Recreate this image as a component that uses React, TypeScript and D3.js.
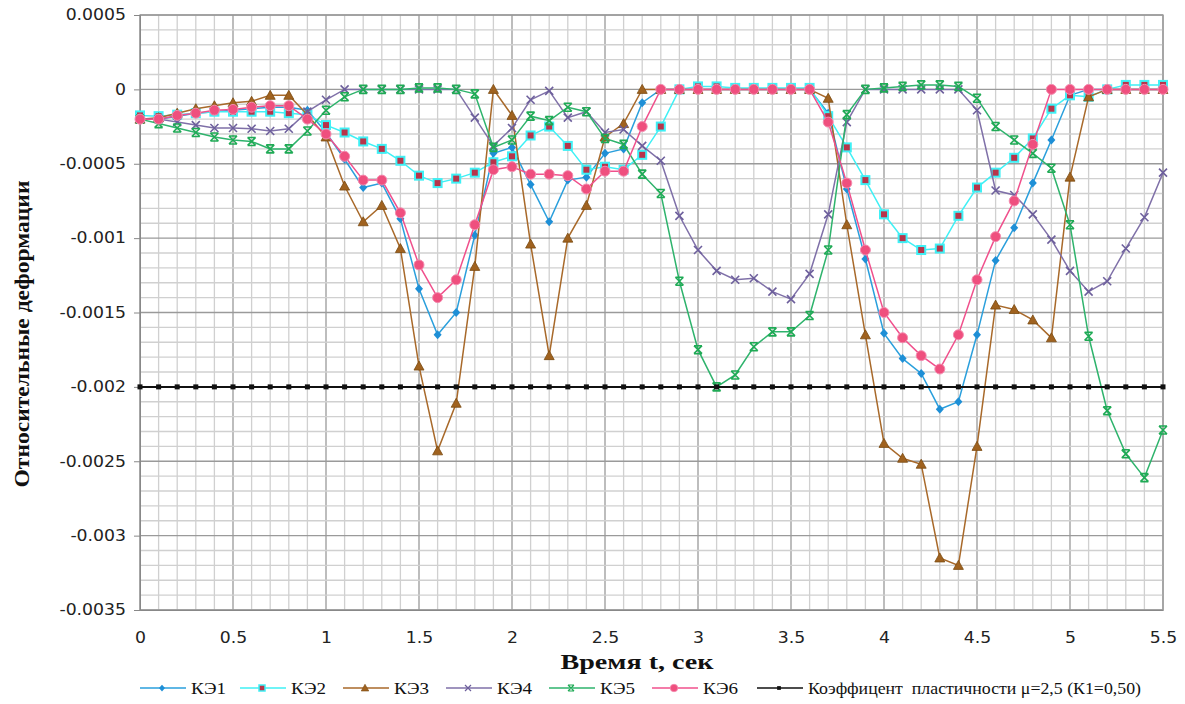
import React, { useEffect, useRef } from "react";
import * as d3 from "d3";

// time, seconds (0 .. 5.5 step 0.1)
const times = d3.range(56).map((i) => +(i * 0.1).toFixed(1));

const ke1 = [
  -0.0002, -0.0002, -0.00018, -0.00016, -0.00015, -0.00014, -0.00013, -0.00012, -0.00012, -0.00014,
  -0.00029, -0.00047, -0.00066, -0.00063, -0.00087, -0.00134, -0.00165, -0.0015, -0.00098, -0.00043,
  -0.00039, -0.00064, -0.00089, -0.00061, -0.00059, -0.00043, -0.0004, -0.00009, 0, 0,
  0, 0, 0, 0, 0, 0, 0, -0.00016, -0.00067, -0.00114,
  -0.00164, -0.00181, -0.00191, -0.00215, -0.0021, -0.00165, -0.00115, -0.00093, -0.00063, -0.00034,
  -0.00004, 0, 0, 0, 0, 0,
];
const ke2 = [
  -0.000175, -0.00018, -0.00017, -0.00016, -0.00015, -0.00015, -0.00015, -0.00015, -0.00016, -0.00017,
  -0.00024, -0.00029, -0.00035, -0.0004, -0.00048, -0.00058, -0.00063, -0.0006, -0.00056, -0.00049,
  -0.00045, -0.00031, -0.00025, -0.00038, -0.00054, -0.00052, -0.00054, -0.00044, -0.00025, 0,
  0.00002, 0.00002, 0.00001, 0.00001, 0.00001, 0.00001, 0.00001, -0.00018, -0.00039, -0.00061,
  -0.00084, -0.001, -0.00108, -0.00107, -0.00085, -0.00066, -0.00056, -0.00046, -0.00033, -0.00013,
  -0.00004, -0.00005, 0, 0.00003, 0.00003, 0.00003,
];
const ke3 = [
  -0.0002, -0.00019, -0.00016, -0.00013, -0.00011, -0.00009, -0.00008, -0.00004, -0.00004, -0.00017,
  -0.00032, -0.00065, -0.00089, -0.00078, -0.00107, -0.00186, -0.00243, -0.00211, -0.00119, 0,
  -0.000175, -0.00104, -0.00179, -0.001, -0.00078, -0.00032, -0.00023, 0, 0, 0,
  0, 0, 0, 0, 0, 0, 0, -0.00006, -0.00091, -0.00165,
  -0.00238, -0.00248, -0.00252, -0.00315, -0.0032, -0.0024, -0.00145, -0.00148, -0.00155, -0.00167,
  -0.00059, -0.00005, 0, 0, 0, 0,
];
const ke4 = [
  -0.0002, -0.0002, -0.00022, -0.00024, -0.00026, -0.00026, -0.000265, -0.00028, -0.000265, -0.00015,
  -0.00007, 0, 0, 0, 0, 0, 0, 0, -0.00019, -0.00038,
  -0.00026, -0.00007, -0.00001, -0.00019, -0.00015, -0.00029, -0.00027, -0.00038, -0.00048, -0.00085,
  -0.00108, -0.00122, -0.00128, -0.00127, -0.00136, -0.00141, -0.00124, -0.00084, -0.00022, 0,
  0, 0, 0, 0, 0, -0.00014, -0.00068, -0.00071, -0.00084, -0.00101,
  -0.00122, -0.00136, -0.00129, -0.00107, -0.00086, -0.00056,
];
const ke5 = [
  -0.0002, -0.00023, -0.00026, -0.00029, -0.00032, -0.00034, -0.00035, -0.0004, -0.0004, -0.00028,
  -0.00014, -0.00005, 0, 0, 0, 0.00001, 0.00001, 0, -0.00003, -0.00039,
  -0.00034, -0.00018, -0.00021, -0.00012, -0.00015, -0.00033, -0.00037, -0.00057, -0.0007, -0.00129,
  -0.00175, -0.002, -0.00192, -0.00173, -0.00163, -0.00163, -0.00152, -0.00108, -0.00017, 0,
  0.00001, 0.00002, 0.00003, 0.00003, 0.00002, -0.00006, -0.00025, -0.00034, -0.00043, -0.00053,
  -0.00091, -0.00166, -0.00216, -0.00245, -0.00261, -0.00229,
];
const ke6 = [
  -0.0002, -0.0002, -0.000175, -0.00016, -0.00014, -0.000135, -0.00012, -0.00011, -0.00011, -0.0002,
  -0.0003, -0.00045, -0.00061, -0.00061, -0.00083, -0.00118, -0.0014, -0.00128, -0.00091, -0.00054,
  -0.00052, -0.00057, -0.00057, -0.00058, -0.00067, -0.00055, -0.00055, -0.00025, 0, 0,
  0, 0, 0, 0, 0, 0, 0, -0.00022, -0.00063, -0.00108,
  -0.0015, -0.00167, -0.00179, -0.00188, -0.00165, -0.00128, -0.00099, -0.00075, -0.00037, 0,
  0, 0, 0, 0, 0, 0,
];
// ductility limit, mu = 2.5
const limit = -0.002;

const xTicks = [0, 0.5, 1, 1.5, 2, 2.5, 3, 3.5, 4, 4.5, 5, 5.5];
const yTicks = [0.0005, 0, -0.0005, -0.001, -0.0015, -0.002, -0.0025, -0.003, -0.0035];

const series = [
  { name: "КЭ1", values: ke1, color: "#2a9fdc", marker: "diamond" },
  { name: "КЭ2", values: ke2, color: "#3ff0f5", marker: "square" },
  { name: "КЭ3", values: ke3, color: "#a8692a", marker: "triangle" },
  { name: "КЭ4", values: ke4, color: "#7f70a8", marker: "cross" },
  { name: "КЭ5", values: ke5, color: "#2eb36c", marker: "star" },
  { name: "КЭ6", values: ke6, color: "#f0508c", marker: "circle" },
  { name: "Коэффицент  пластичности μ=2,5 (К1=0,50)", values: times.map(() => limit), color: "#111", marker: "dot" },
];

function drawMarker(g: any, kind: string, x: number, y: number, color: string) {
  if (kind === "diamond") {
    g.append("path").attr("d", `M${x},${y - 4.5}L${x + 4},${y}L${x},${y + 4.5}L${x - 4},${y}Z`).attr("fill", "#1e8fd6");
  } else if (kind === "square") {
    g.append("rect").attr("x", x - 4).attr("y", y - 4).attr("width", 8).attr("height", 8)
      .attr("fill", "#b8344a").attr("stroke", "#3ff0f5").attr("stroke-width", 2);
  } else if (kind === "triangle") {
    g.append("path").attr("d", `M${x},${y - 5}L${x + 5},${y + 4}L${x - 5},${y + 4}Z`)
      .attr("fill", "#a0621f").attr("stroke", "#7a4a10").attr("stroke-width", 0.8);
  } else if (kind === "cross") {
    g.append("path").attr("d", `M${x - 4},${y - 4}L${x + 4},${y + 4}M${x - 4},${y + 4}L${x + 4},${y - 4}`)
      .attr("stroke", "#6d5f9c").attr("stroke-width", 1.6);
  } else if (kind === "star") {
    g.append("path").attr("d", `M${x - 4},${y - 4}L${x + 4},${y + 4}M${x - 4},${y + 4}L${x + 4},${y - 4}M${x - 4},${y - 4}L${x + 4},${y - 4}M${x - 4},${y + 4}L${x + 4},${y + 4}`)
      .attr("stroke", "#1faa55").attr("stroke-width", 1.6);
  } else if (kind === "circle") {
    g.append("circle").attr("cx", x).attr("cy", y).attr("r", 5)
      .attr("fill", "#ef4f7e").attr("stroke", "#f48cb0").attr("stroke-width", 1);
  } else {
    g.append("rect").attr("x", x - 2.5).attr("y", y - 2.5).attr("width", 5).attr("height", 5).attr("fill", color);
  }
}

// stretch a text horizontally (the reference is wider than tall)
function stretch(sel: any, k: number) {
  sel.each(function (this: SVGTextElement) {
    const len = this.getComputedTextLength();
    d3.select(this).attr("textLength", len * k).attr("lengthAdjust", "spacingAndGlyphs");
  });
}

export default function App() {
  const ref = useRef<SVGSVGElement>(null);

  useEffect(() => {
    const svg = d3.select(ref.current);
    svg.selectAll("*").remove();

    const left = 140, right = 1163, top = 15, bottom = 610;
    const x = d3.scaleLinear().domain([0, 5.5]).range([left, right]);
    const y = d3.scaleLinear().domain([-0.0035, 0.0005]).range([bottom, top]);

    svg.append("rect").attr("width", 1185).attr("height", 704).attr("fill", "#fff");

    const grid = svg.append("g");
    d3.range(0, 56).forEach((i) => {
      const xx = x(i * 0.1);
      grid.append("line").attr("x1", xx).attr("x2", xx).attr("y1", top).attr("y2", bottom)
        .attr("stroke", i % 5 === 0 ? "#9a9a9a" : "#d0d0d0").attr("stroke-width", 1.3);
    });
    d3.range(0, 41).forEach((i) => {
      const yy = y(0.0005 - i * 0.0001);
      grid.append("line").attr("x1", left).attr("x2", right).attr("y1", yy).attr("y2", yy)
        .attr("stroke", i % 5 === 0 ? "#9a9a9a" : "#d0d0d0").attr("stroke-width", 1.3);
    });
    svg.append("rect").attr("x", left).attr("y", top).attr("width", right - left).attr("height", bottom - top)
      .attr("fill", "none").attr("stroke", "#9a9a9a").attr("stroke-width", 1.3);

    // axes
    const yAxis = svg.append("g").attr("transform", `translate(${left},0)`)
      .call(d3.axisLeft(y).tickValues(yTicks).tickSize(6).tickFormat((d: any) => (d === 0 ? "0" : String(+d.toFixed(4)))));
    yAxis.attr("font-family", null);
    yAxis.select(".domain").attr("stroke", "#888");
    yAxis.selectAll(".tick line").attr("stroke", "#888");
    const yt = yAxis.selectAll("text").style("font-family", "DejaVu Sans").style("font-size", "15px")
      .attr("fill", "#222").attr("x", -14);
    stretch(yt, 1.15);

    const xAxis = svg.append("g").attr("transform", `translate(0,${bottom})`)
      .call(d3.axisBottom(x).tickValues(xTicks).tickSize(0).tickFormat((d: any) => String(d)));
    xAxis.attr("font-family", null);
    xAxis.select(".domain").attr("stroke", "#888");
    const xt = xAxis.selectAll("text").style("font-family", "DejaVu Sans").style("font-size", "15px")
      .attr("fill", "#222").attr("y", 22).attr("dy", "0.71em");
    stretch(xt, 1.15);

    const plot = svg.append("g");
    series.forEach((s) => {
      const line = d3.line<number>().x((_, i) => x(times[i])).y((d) => y(d));
      plot.append("path").attr("d", line(s.values)).attr("fill", "none")
        .attr("stroke", s.color).attr("stroke-width", s.marker === "dot" ? 2 : 1.5);
      const mg = plot.append("g");
      s.values.forEach((v, i) => drawMarker(mg, s.marker, x(times[i]), y(v), s.color));
    });

    // titles
    svg.append("text").attr("x", 637).attr("y", 669).attr("text-anchor", "middle")
      .style("font-family", "Liberation Serif").style("font-weight", "bold").style("font-size", "20px").attr("fill", "#111")
      .attr("textLength", 153).attr("lengthAdjust", "spacingAndGlyphs")
      .text("Время t, сек");
    svg.append("text").attr("transform", `translate(29,334) rotate(-90)`).attr("text-anchor", "middle")
      .style("font-family", "Liberation Serif").style("font-weight", "bold").style("font-size", "21px").attr("fill", "#111")
      .attr("textLength", 307).attr("lengthAdjust", "spacingAndGlyphs")
      .text("Относительные деформации");

    // legend
    const legX = [140, 240, 343, 446, 549, 652, 757];
    const ly = 688;
    series.forEach((s, i) => {
      const lg = svg.append("g");
      const x0 = legX[i];
      lg.append("line").attr("x1", x0).attr("x2", x0 + 46).attr("y1", ly).attr("y2", ly)
        .attr("stroke", s.color).attr("stroke-width", 1.5);
      const small = lg.append("g").attr("transform", `translate(${x0 + 22},${ly}) scale(0.75)`);
      drawMarker(small, s.marker, 0, 0, s.color);
      lg.append("text").attr("x", x0 + 51).attr("y", ly + 6)
        .style("font-family", "Liberation Serif").style("font-size", "17px").style("white-space", "pre")
        .attr("fill", "#111")
        .attr("textLength", i < 6 ? 35 : 333).attr("lengthAdjust", "spacingAndGlyphs")
        .text(s.name);
    });
  }, []);

  return (
    <svg ref={ref} width={1185} height={704} style={{ position: "absolute", left: 0, top: 0 }} />
  );
}
